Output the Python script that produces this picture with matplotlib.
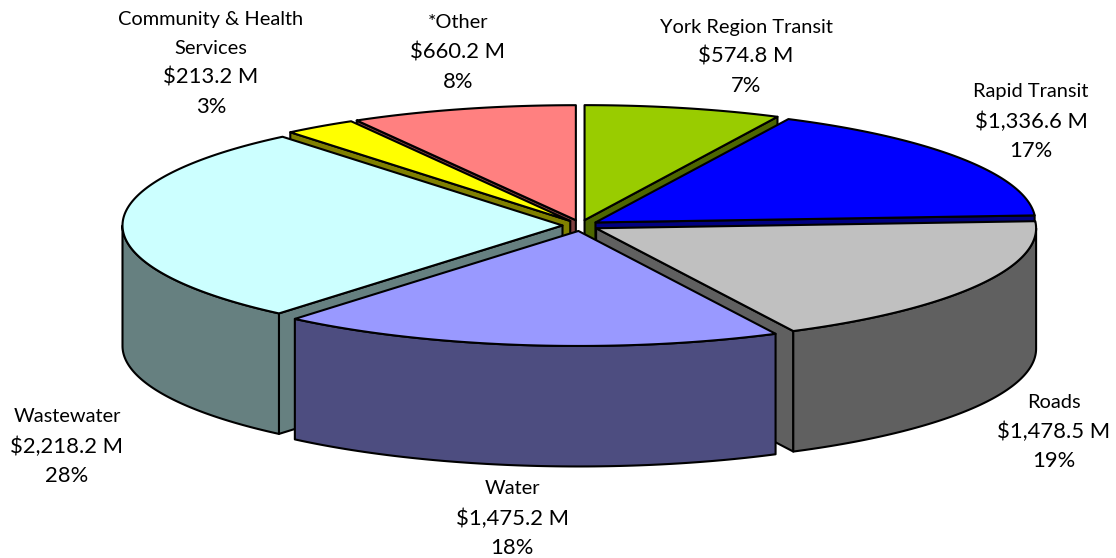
import numpy as np
import matplotlib
matplotlib.use("Agg")
import matplotlib.pyplot as plt
from matplotlib.patches import Polygon

# values in slice order, clockwise from 12 o'clock
names = [["York Region Transit"], ["Rapid Transit"], ["Roads"], ["Water"], ["Wastewater"],
         ["Community & Health", "Services"], ["*Other"]]
amounts = [574.8, 1336.6, 1478.5, 1475.2, 2218.2, 213.2, 660.2]
percents = ["7%", "17%", "19%", "18%", "28%", "3%", "8%"]
top_colors = ["#99cc00", "#0000ff", "#c0c0c0", "#9999ff", "#ccffff", "#ffff00", "#ff8080"]
wall_colors = ["#4d6600", "#000080", "#606060", "#4d4d80", "#668080", "#808000", "#804040"]
label_x = [746, 1031, 1054, 512, 67, 211, 458]
label_y = [27, 92, 402, 489, 417, 19, 23]

# back to front
draw_order = [6, 0, 5, 1, 4, 2, 3]

cx, cy = 580.5, 225.5
rx, ry = 440, 115
explode_x, explode_y = 18, 5.5
depth = 120.5
lw = 1.5
line_gap = 29.4

plt.rcParams["font.family"] = ["Lato", "DejaVu Sans"]
fig = plt.figure(figsize=(11.16, 5.58), dpi=100)
ax = fig.add_axes([0, 0, 1, 1])
ax.set_xlim(0, 1116)
ax.set_ylim(558, 0)
ax.axis("off")

edges = np.concatenate([[0], np.cumsum(amounts)]) / sum(amounts) * 2 * np.pi


def rim(a, ox, oy):
    return np.column_stack([ox + rx * np.sin(a), oy - ry * np.cos(a)])


def wall(pts, color, z):
    down = pts[::-1] + [0, depth]
    ax.add_patch(Polygon(np.vstack([pts, down]), closed=True, facecolor=color,
                         edgecolor="black", linewidth=lw, joinstyle="round", zorder=z))


for n, i in enumerate(draw_order):
    a0, a1 = edges[i], edges[i + 1]
    mid = (a0 + a1) / 2
    ox = cx + explode_x * np.sin(mid)
    oy = cy - explode_y * np.cos(mid)
    apex = np.array([[ox, oy]])
    z = 2 + n * 3

    # radial cut faces that turn towards the viewer
    if np.sin(a1) > 0:
        wall(np.vstack([apex, rim(np.array([a1]), ox, oy)]), wall_colors[i], z)
    if np.sin(a0) < 0:
        wall(np.vstack([apex, rim(np.array([a0]), ox, oy)]), wall_colors[i], z)

    # outer wall, front half only
    lo, hi = max(a0, np.pi / 2), min(a1, 3 * np.pi / 2)
    if hi > lo:
        wall(rim(np.linspace(lo, hi, 80), ox, oy), wall_colors[i], z + 1)

    # top face
    top = np.vstack([apex, rim(np.linspace(a0, a1, 120), ox, oy)])
    ax.add_patch(Polygon(top, closed=True, facecolor=top_colors[i], edgecolor="black",
                         linewidth=lw, joinstyle="round", zorder=z + 2))

# one text per line, the digits in the original run wider than the words
for i in range(len(names)):
    y = label_y[i]
    for line in names[i]:
        ax.text(label_x[i], y, line, ha="center", va="center", fontsize=14.4, zorder=50)
        y += line_gap
    ax.text(label_x[i], y, f"${amounts[i]:,.1f} M", ha="center", va="center",
            fontsize=15.8, zorder=50)
    y += line_gap
    ax.text(label_x[i], y, percents[i], ha="center", va="center", fontsize=15.8, zorder=50)

fig.savefig("out.png", dpi=100, facecolor="white")
